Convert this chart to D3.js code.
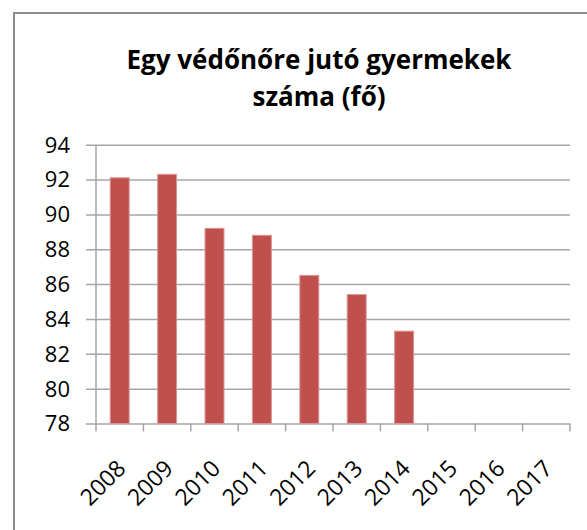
<!DOCTYPE html>
<html>
<head>
<meta charset="utf-8">
<script src="https://cdn.jsdelivr.net/npm/d3@7"></script>
<style>
  body { margin: 0; background: #fff; }
  text { font-family: "Open Sans", "Noto Sans", sans-serif; fill: #000; }
</style>
</head>
<body>
<div id="chart"></div>
<script>
// adatok
years = ["2008", "2009", "2010", "2011", "2012", "2013", "2014", "2015", "2016", "2017"]
values = [92.1, 92.3, 89.2, 88.8, 86.5, 85.4, 83.3, null, null, null]
yTicks = [78, 80, 82, 84, 86, 88, 90, 92, 94]
titleLines = ["Egy védőnőre jutó gyermekek", "száma (fő)"]

width = 587
height = 530
plotLeft = 96
plotRight = 570
plotTop = 144.7
plotBottom = 423.5

svg = d3.select("#chart").append("svg")
  .attr("width", width)
  .attr("height", height)

// keret
svg.append("path")
  .attr("d", "M14," + height + "V13H" + width)
  .attr("fill", "none")
  .attr("stroke", "#8c8c8c")
  .attr("stroke-width", 2)

svg.selectAll(".title")
  .data(titleLines).enter()
  .append("text")
  .attr("class", "title")
  .attr("x", 319)
  .attr("y", function(d, i) { return 69 + i * 37 })
  .attr("text-anchor", "middle")
  .attr("font-size", 26)
  .attr("font-weight", "bold")
  .text(function(d) { return d })

x = d3.scaleBand().domain(years).range([plotLeft, plotRight]).paddingInner(0.6).paddingOuter(0.3)
y = d3.scaleLinear().domain([78, 94]).range([plotBottom, plotTop])

// rácsvonalak
svg.append("g")
  .attr("transform", "translate(" + plotRight + ",0)")
  .call(d3.axisLeft(y).tickValues(yTicks).tickSize(plotRight - plotLeft + 10).tickFormat(""))
  .call(function(g) {
    g.select(".domain").remove()
    g.selectAll("line").attr("stroke", "#a6a6a6").attr("stroke-width", 1.5)
  })

svg.selectAll(".ylab")
  .data(yTicks).enter()
  .append("text")
  .attr("class", "ylab")
  .attr("x", 70)
  .attr("y", function(d) { return y(d) })
  .attr("dy", "0.36em")
  .attr("text-anchor", "end")
  .attr("font-size", 22)
  .text(function(d) { return d })

svg.selectAll(".bar")
  .data(values.map(function(v, i) { return { year: years[i], v: v } }).filter(function(d) { return d.v != null }))
  .enter()
  .append("rect")
  .attr("class", "bar")
  .attr("x", function(d) { return x(d.year) })
  .attr("width", x.bandwidth())
  .attr("y", function(d) { return y(d.v) })
  .attr("height", function(d) { return plotBottom - y(d.v) })
  .attr("fill", "#c0504d")
  .attr("stroke", "#d99694")
  .attr("stroke-width", 1)

// tengelyek
svg.append("line")
  .attr("x1", plotLeft).attr("x2", plotLeft)
  .attr("y1", plotTop).attr("y2", plotBottom)
  .attr("stroke", "#a6a6a6").attr("stroke-width", 1.5)

band = (plotRight - plotLeft) / years.length
svg.selectAll(".xtick")
  .data(d3.range(years.length + 1)).enter()
  .append("line")
  .attr("x1", function(d) { return plotLeft + d * band })
  .attr("x2", function(d) { return plotLeft + d * band })
  .attr("y1", plotBottom).attr("y2", plotBottom + 8)
  .attr("stroke", "#a6a6a6").attr("stroke-width", 1.5)

svg.selectAll(".xlab")
  .data(years).enter()
  .append("text")
  .attr("class", "xlab")
  .attr("text-anchor", "end")
  .attr("font-size", 23)
  .attr("transform", function(d) {
    return "translate(" + (x(d) + x.bandwidth() / 2 - 4) + "," + (plotBottom + 35) + ") rotate(-45)"
  })
  .attr("dy", "0.7em")
  .text(function(d) { return d })
</script>
</body>
</html>
